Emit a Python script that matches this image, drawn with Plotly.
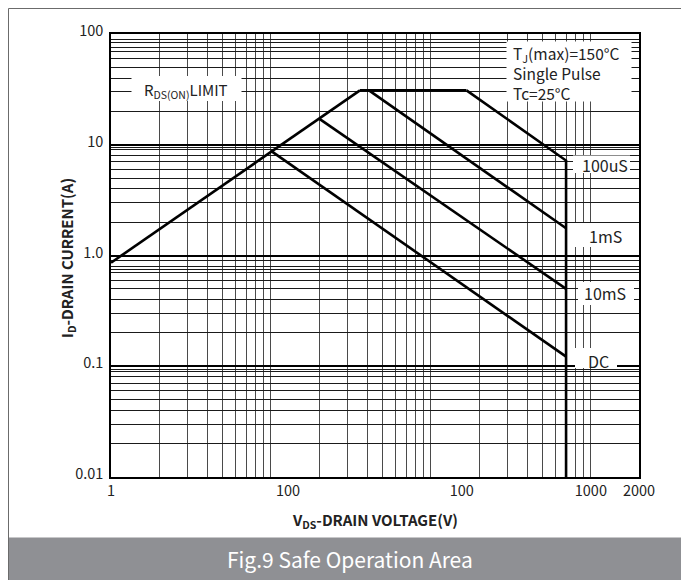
import plotly.graph_objects as go

# ---------------- data ----------------
rds_v = [1, 36]
rds_i = [0.86, 31]

flat_v = [36, 167]
flat_i = [31, 31]

us100_v = [167, 700, 700]
us100_i = [31, 7.2, 0.01]

ms1_v = [41, 700]
ms1_i = [31, 1.76]

ms10_v = [20, 700]
ms10_i = [17.2, 0.5]

dc_v = [10, 700]
dc_i = [8.8, 0.122]

x_tick_vals = [1, 12.8, 156, 1000, 2000]
x_tick_text = ["1", "100", "100", "1000", "2000"]
y_tick_vals = [0.01, 0.1, 1, 10, 100]
y_tick_text = ["0.01", "0.1", "1.0", "10", "100"]

x_grid = [2, 3, 4, 5, 6, 7, 8, 9, 10,
          20, 30, 40, 50, 60, 70, 80, 90, 100,
          200, 300, 400, 500, 600, 700, 800, 900, 1000]
y_grid = [0.02, 0.03, 0.04, 0.05, 0.06, 0.07, 0.08, 0.09, 0.094,
          0.2, 0.3, 0.4, 0.5, 0.6, 0.7, 0.75, 0.8, 0.9,
          2, 3, 4, 5, 6, 7, 8, 9, 9.45,
          20, 30, 40, 50, 60, 70, 76, 83, 90]

# ---------------- layout helpers ----------------
OFF = 8                     # page body margin of the browser
W, H = 689 - OFF, 580 - OFF
L, R, T, B = 103, 631, 26, 469   # plot area, in figure pixels
FONT = "Noto Sans CJK SC, Noto Sans, sans-serif"


def px(x):
    """screen x (pixels) -> paper x"""
    return (x - OFF - L) / (R - L)


def py(y):
    """screen y (pixels) -> paper y"""
    return (B - (y - OFF)) / (B - T)


fig = go.Figure()
line_style = dict(color="black", width=2.6)
for vx, iy in [(rds_v, rds_i), (flat_v, flat_i), (us100_v, us100_i),
               (ms1_v, ms1_i), (ms10_v, ms10_i), (dc_v, dc_i)]:
    fig.add_trace(go.Scatter(x=vx, y=iy, mode="lines", line=line_style,
                             showlegend=False, hoverinfo="skip"))

shapes = []
# outer frame of the figure card
shapes.append(dict(type="rect", xref="paper", yref="paper",
                   x0=px(8.5), x1=px(720), y0=py(8.5), y1=py(620),
                   line=dict(color="#6b6b6b", width=1), layer="below"))
# bottom caption banner
shapes.append(dict(type="rect", xref="paper", yref="paper",
                   x0=px(9), x1=px(720), y0=py(537.5), y1=py(620),
                   fillcolor="#8f9094", line=dict(width=0), layer="above"))
# white boxes behind labels
for (x0, x1, y0, y1) in [(131.5, 241.5, 76, 101), (506.5, 631.5, 41.5, 101.5),
                         (573, 630, 155.5, 173), (574, 638, 223, 247),
                         (578, 634, 282, 305), (575, 617, 348, 368)]:
    shapes.append(dict(type="rect", xref="paper", yref="paper",
                       x0=px(x0), x1=px(x1), y0=py(y0), y1=py(y1),
                       fillcolor="white", line=dict(width=0), layer="above"))

annotations = []


def add_text(text, x, y, size=15, xanchor="center", color="#222", bold=False,
             angle=0, align="center"):
    annotations.append(dict(text=("<b>%s</b>" % text) if bold else text,
                            xref="paper", yref="paper", x=px(x), y=py(y),
                            xanchor=xanchor, yanchor="middle", showarrow=False,
                            textangle=angle, align=align,
                            font=dict(family=FONT, size=size, color=color)))


add_text("R<sub>DS(ON)</sub>LIMIT", 186, 90)
add_text("T<sub>J</sub>(max)=150°C<br>Single Pulse<br>Tc=25°C", 511, 73,
         size=15.5, xanchor="left", align="left")
add_text("100uS", 605, 165, size=16)
add_text("1mS", 605, 236, size=16)
add_text("10mS", 605, 293, size=16)
add_text("DC", 598, 361, size=16)
add_text("V<sub>DS</sub>-DRAIN VOLTAGE(V)", 375, 520, size=15, bold=True)
add_text("I<sub>D</sub>-DRAIN CURRENT(A)", 67, 258, size=15, bold=True, angle=-90)
add_text("Fig.9 Safe Operation Area", 350, 559, size=21, color="white")

fig.update_layout(
    width=W, height=H, autosize=False,
    margin=dict(l=L, r=W - R, t=T, b=H - B, pad=0),
    paper_bgcolor="white", plot_bgcolor="white",
    shapes=shapes, annotations=annotations,
    font=dict(family=FONT, size=14, color="#222"),
)
fig.update_xaxes(
    type="log", range=[0, 3.30103],
    tickmode="array", tickvals=x_tick_vals, ticktext=x_tick_text,
    showgrid=False, zeroline=False,
    showline=True, mirror=True, linecolor="black", linewidth=1.5,
    ticks="", ticklabelstandoff=0,
    tickfont=dict(family=FONT, size=14.5, color="#222"),
    minor=dict(tickmode="array", tickvals=x_grid, showgrid=True,
               gridcolor="#4a4a4a", gridwidth=1, ticks=""),
)
fig.update_yaxes(
    type="log", range=[-2, 2],
    tickmode="array", tickvals=y_tick_vals, ticktext=y_tick_text,
    showgrid=True, gridcolor="black", gridwidth=2, zeroline=False,
    showline=True, mirror=True, linecolor="black", linewidth=1.5,
    ticks="", ticklabelstandoff=3, ticklabelshift=-3,
    tickfont=dict(family=FONT, size=14.5, color="#222"),
    minor=dict(tickmode="array", tickvals=y_grid, showgrid=True,
               gridcolor="#1a1a1a", gridwidth=1, ticks=""),
)

fig.write_html("out.html")
